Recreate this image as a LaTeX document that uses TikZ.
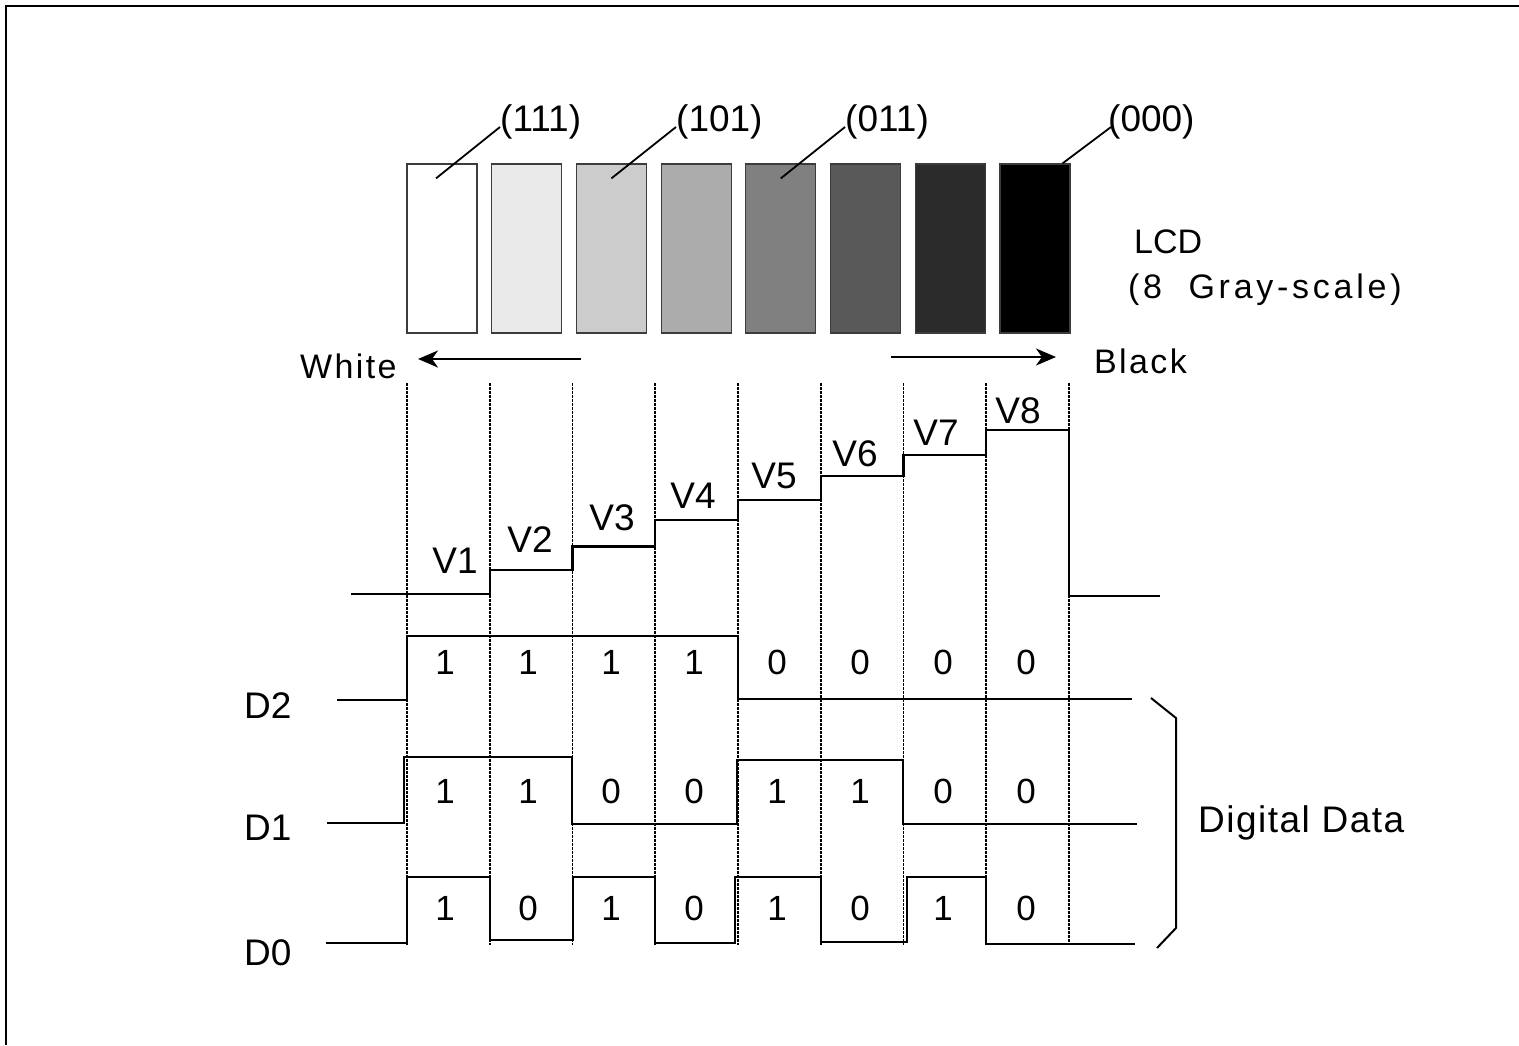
\documentclass[tikz,border=0pt]{standalone}
\usepackage{fontspec}
\setmainfont{Liberation Sans}
\newfontfamily\widefont{Liberation Sans}[LetterSpace=7]
\newfontfamily\datafont{Liberation Sans}[LetterSpace=4]
\newfontfamily\widerfont{Liberation Sans}[LetterSpace=11]
\usepackage{tikz}
\usetikzlibrary{arrows.meta, positioning}
\definecolor{shadeA}{RGB}{234,234,234}
\definecolor{shadeB}{RGB}{204,204,204}
\definecolor{shadeC}{RGB}{172,172,172}
\definecolor{shadeD}{RGB}{128,128,128}
\definecolor{shadeE}{RGB}{89,89,89}
\definecolor{shadeF}{RGB}{43,43,43}
\definecolor{rim}{RGB}{60,60,60}

\begin{document}
\begin{tikzpicture}[x=1pt, y=-1pt, >={Stealth[length=20pt,width=17pt,inset=6pt]},
    cellbox/.style={draw=rim, line width=1.2pt, minimum width=70pt, minimum height=169pt, inner sep=0pt},
    txt/.style={inner sep=0pt, font=\fontsize{34}{38}\selectfont},
    bigtxt/.style={inner sep=0pt, font=\fontsize{37}{40}\selectfont},
    bittxt/.style={inner sep=0pt, font=\fontsize{35}{38}\selectfont},
    wave/.style={line width=2.2pt, line join=miter},
    guide/.style={line width=1.8pt, dash pattern=on 2.5pt off 1.5pt}]
    \useasboundingbox (0,0) rectangle (1519,1045);
    \draw[line width=2.4pt] (6,1045) -- (6,6) -- (1519,6);

    % LCD cells
    \foreach \c [count=\i] in {white,shadeA,shadeB,shadeC,shadeD,shadeE,shadeF,black}
        \node[cellbox, fill=\c] (g\i) at ({442+84.7*(\i-1)},248.5) {};

    % Nodes
    \node[bigtxt, anchor=base west] (l111) at (500,131) {(111)};
    \node[bigtxt, anchor=base west] (l101) at (676,131) {(101)};
    \node[bigtxt, anchor=base west] (l011) at (845,131) {(011)};
    \node[bigtxt, anchor=base west] (l000) at (1108,131) {(000)};
    \node[txt, anchor=base west] (LCD) at (1134,253) {LCD};
    \node[txt, anchor=base west] (gray) at (1128,298) {\widerfont(8\ \ Gray-scale)};
    \node[txt, anchor=base west] (white) at (300,378) {\widefont White};
    \node[txt, anchor=base west] (black) at (1094,373) {\widefont Black};
    \node[bigtxt, anchor=base west] (digital) at (1198,832) {\datafont Digital Data};
    \node[bigtxt, anchor=base west] (D2) at (244,718) {D2};
    \node[bigtxt, anchor=base west] (D1) at (244,840) {D1};
    \node[bigtxt, anchor=base west] (D0) at (244,965) {D0};

    % leaders
    \draw[line width=1.8pt] ([xshift=-6pt,yshift=-15pt]g1.north) -- ([yshift=4pt]l111.base west);
    \draw[line width=1.8pt] ([yshift=-15pt]g3.north) -- ([yshift=4pt]l101.base west);
    \draw[line width=1.8pt] ([yshift=-15pt]g5.north) -- ([yshift=4pt]l011.base west);
    \draw[line width=1.8pt] ([xshift=-8pt]g8.north east) -- ([xshift=3pt,yshift=4pt]l000.base west);

    % direction arrows
    \coordinate (wtail) at (581,359);
    \coordinate (whead) at (418,359);
    \coordinate (btail) at (891,357);
    \coordinate (bhead) at (1056,357);
    \draw[->, line width=2.5pt] (wtail) -- (whead);
    \draw[->, line width=2.5pt] (btail) -- (bhead);

    % guides
    \foreach \i in {0,...,8}
        \draw[guide] ({407+82.75*\i},383) -- ({407+82.75*\i},945);

    % voltage levels
    \draw[wave] (351,594) -- (489.75,594) -- (489.75,570) -- (572.5,570) -- (572.5,546.5)
        -- (655.25,546.5) -- (655.25,520) -- (738,520) -- (738,500) -- (820.75,500)
        -- (820.75,476) -- (903.5,476) -- (903.5,455) -- (986.25,455) -- (986.25,430)
        -- (1069,430) -- (1069,596) -- (1160,596);
    \foreach \lab/\x/\y in {V1/455/573, V2/530/552, V3/612/530, V4/693/508,
                            V5/774/488, V6/855/466, V7/936/445, V8/1018/423}
        \node[bigtxt, anchor=base] (\lab) at (\x,\y) {\lab};

    % data lines
    \draw[wave] (337,700) -- (407,700) -- (407,636) -- (738,636) -- (738,699) -- (1132,699);
    \draw[wave] (327,823) -- (404,823) -- (404,757) -- (572,757) -- (572,824) -- (737,824)
        -- (737,760) -- (903,760) -- (903,824) -- (1137,824);
    \draw[wave] (326,943) -- (407,943) -- (407,877) -- (490,877) -- (490,940) -- (573,940)
        -- (573,877) -- (655,877) -- (655,943) -- (735,943) -- (735,877) -- (821,877)
        -- (821,942) -- (907,942) -- (907,877) -- (986,877) -- (986,944) -- (1135,944);
    \foreach \a/\b/\c [count=\i] in {1/1/1, 1/1/0, 1/0/1, 1/0/0, 0/1/1, 0/1/0, 0/0/1, 0/0/0} {
        \node[bittxt, anchor=base] (b2\i) at ({445+83*(\i-1)},674) {\a};
        \node[bittxt, anchor=base] (b1\i) at ({445+83*(\i-1)},803) {\b};
        \node[bittxt, anchor=base] (b0\i) at ({445+83*(\i-1)},920) {\c};
    }

    % brace
    \draw[line width=2pt] (1151,698) -- (1176,718) -- (1176,928) -- (1157,948);
\end{tikzpicture}
\end{document}
